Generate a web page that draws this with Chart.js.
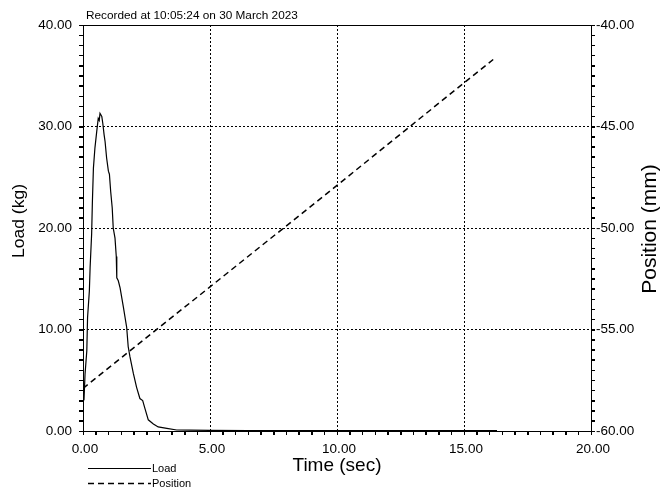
<!DOCTYPE html>
<html>
<head>
<meta charset="utf-8">
<title>Load and position against time</title>
<script src="https://cdn.jsdelivr.net/npm/chart.js@4/dist/chart.umd.min.js"></script>
<style>
  html, body { margin: 0; padding: 0; background: #fff; }
  canvas { display: block; }
</style>
</head>
<body>
<canvas id="chart" width="662" height="492"></canvas>
<script>
// Test record
const recordedAt = 'Recorded at 10:05:24 on 30 March 2023';

// Load channel (kg) against time (sec)
const loadTime = [0, 0.04, 0.08, 0.15, 0.18, 0.25, 0.28, 0.34, 0.37, 0.41, 0.47, 0.54, 0.60, 0.64, 0.67, 0.70,
  0.74, 0.78, 0.83, 0.87, 0.93, 1.00, 1.04, 1.09, 1.15, 1.19, 1.26, 1.31, 1.33, 1.39, 1.46, 1.59, 1.72,
  1.78, 1.85, 1.98, 2.11, 2.24, 2.35, 2.44, 2.57, 2.77, 2.96, 3.30, 3.69, 4.2, 5.0, 6.5, 8.0, 10.0, 12.0,
  14.0, 16.3];
const loadKg = [2.9, 3.1, 5.6, 7.9, 11.2, 13.8, 16.1, 19.4, 22.6, 25.9, 27.9, 29.5, 30.8, 30.6, 31.3, 31.3,
  31.0, 30.3, 29.2, 28.5, 26.9, 25.6, 25.3, 23.6, 22.0, 20.0, 19.0, 17.2, 15.1, 14.8, 14.1, 12.2, 10.2,
  8.3, 7.3, 5.7, 4.3, 3.2, 3.0, 2.2, 1.1, 0.7, 0.4, 0.25, 0.1, 0.08, 0.06, 0.05, 0.05, 0.05, 0.04,
  0.04, 0.04];

// Position channel (mm) against time (sec)
const positionTime = [0, 5, 10, 15, 16.15];
const positionMm = [-57.9, -52.9, -47.9, -42.85, -41.7];

// Labelled ticks on each axis
const timeTicks = [0, 5, 10, 15, 20];
const loadTicks = [0, 10, 20, 30, 40];
const positionTicks = [-60, -55, -50, -45, -40];

const FONT = '"Liberation Sans", Arial, sans-serif';
const TICK_LEN = 4;
const near = (list, v) => list.some(t => Math.abs(t - v) < 1e-9);
const pairs = (xs, ys) => xs.map((x, i) => ({ x, y: ys[i] }));

// Ten minor divisions between labelled ticks
function minorTicks(labelled) {
  const out = [];
  for (let k = 0; k < labelled.length - 1; k++) {
    const a = labelled[k], b = labelled[k + 1];
    for (let j = 0; j < 10; j++) out.push({ value: Math.round((a + (b - a) * j / 10) * 1e6) / 1e6 });
  }
  out.push({ value: labelled[labelled.length - 1] });
  return out;
}

// Dotted grid only at inner labelled ticks
function axis(labelled, pad, extra, labelOffset) {
  const min = labelled[0], max = labelled[labelled.length - 1];
  return Object.assign({
    type: 'linear',
    min, max,
    afterBuildTicks: s => { s.ticks = minorTicks(labelled); },
    ticks: {
      autoSkip: false,
      maxRotation: 0,
      padding: pad,
      labelOffset: labelOffset || 0,
      color: '#000',
      font: { family: FONT, size: 13.5 },
      callback: v => near(labelled, v) ? Number(v).toFixed(2) : ''
    },
    grid: {
      color: c => (c.tick && near(labelled, c.tick.value) && c.tick.value !== min && c.tick.value !== max)
        ? '#000' : 'rgba(0,0,0,0)',
      lineWidth: 1,
      drawTicks: true,
      tickLength: TICK_LEN,
      tickColor: '#000',
      tickWidth: 1
    },
    border: { display: false, dash: [2, 2] }
  }, extra);
}

// Frame, outside tick marks, header, vertical titles and the legend under the plot
const overlay = {
  id: 'overlay',
  afterDraw(chart) {
    const { ctx, chartArea: a, scales } = chart;
    ctx.save();
    ctx.strokeStyle = '#000';
    ctx.lineWidth = 1;
    ctx.setLineDash([]);
    ctx.strokeRect(a.left + 0.5, a.top + 0.5, a.right - a.left, a.bottom - a.top);

    ctx.beginPath();
    scales.x.ticks.forEach(t => {
      const px = Math.round(scales.x.getPixelForValue(t.value)) + 0.5;
      ctx.moveTo(px, a.bottom);
      ctx.lineTo(px, a.bottom + TICK_LEN);
    });
    scales.y.ticks.forEach(t => {
      const py = Math.round(scales.y.getPixelForValue(t.value)) + 0.5;
      ctx.moveTo(a.left - TICK_LEN, py);
      ctx.lineTo(a.left + 0.5, py);
    });
    scales.y1.ticks.forEach(t => {
      const py = Math.round(scales.y1.getPixelForValue(t.value)) + 0.5;
      ctx.moveTo(a.right + 0.5, py);
      ctx.lineTo(a.right + TICK_LEN, py);
    });
    ctx.stroke();

    ctx.fillStyle = '#000';
    ctx.textBaseline = 'middle';

    ctx.textAlign = 'left';
    ctx.font = '11.8px ' + FONT;
    ctx.fillText(recordedAt, 86, 16);

    ctx.textAlign = 'center';
    ctx.save();
    ctx.translate(20, 221);
    ctx.rotate(-Math.PI / 2);
    ctx.scale(1, 0.92);
    ctx.font = '17.5px ' + FONT;
    ctx.fillText(scales.y.options.title.text, 0, 0);
    ctx.restore();

    ctx.save();
    ctx.translate(650, 229);
    ctx.rotate(-Math.PI / 2);
    ctx.font = '21px ' + FONT;
    ctx.fillText(scales.y1.options.title.text, 0, 0);
    ctx.restore();

    ctx.textAlign = 'left';
    ctx.font = '11px ' + FONT;
    const rows = [468.5, 483.5];
    chart.data.datasets.forEach((ds, i) => {
      const y = rows[i];
      ctx.beginPath();
      ctx.setLineDash(ds.borderDash || []);
      ctx.lineWidth = ds.borderWidth;
      ctx.strokeStyle = ds.borderColor;
      ctx.moveTo(88, y);
      ctx.lineTo(151, y);
      ctx.stroke();
      ctx.setLineDash([]);
      ctx.fillText(ds.label, 152, y);
    });
    ctx.restore();
  }
};

new Chart(document.getElementById('chart'), {
  type: 'line',
  data: {
    datasets: [
      {
        label: 'Load',
        data: pairs(loadTime, loadKg),
        yAxisID: 'y',
        borderColor: '#000',
        borderWidth: 1.2,
        pointRadius: 0,
        tension: 0,
        fill: false
      },
      {
        label: 'Position',
        data: pairs(positionTime, positionMm),
        yAxisID: 'y1',
        borderColor: '#000',
        borderWidth: 1.5,
        borderDash: [6, 4],
        pointRadius: 0,
        tension: 0,
        fill: false
      }
    ]
  },
  options: {
    responsive: false,
    animation: false,
    devicePixelRatio: 1,
    layout: { padding: { top: 25, left: 0, right: 0, bottom: 0 } },
    plugins: { legend: { display: false }, tooltip: { enabled: false } },
    scales: {
      x: axis(timeTicks, 6, {
        position: 'bottom',
        title: {
          display: true, text: 'Time (sec)', color: '#000',
          font: { family: FONT, size: 19 }, padding: { top: 0, bottom: 15 }
        },
        afterFit: s => { s.height = 61; }
      }, 2),
      y: axis(loadTicks, 7, {
        position: 'left',
        title: { display: false, text: 'Load (kg)' },
        afterFit: s => { s.width = 83; }
      }),
      y1: axis(positionTicks, 1, {
        position: 'right',
        title: { display: false, text: 'Position (mm)' },
        afterFit: s => { s.width = 71; }
      })
    }
  },
  plugins: [overlay]
});
</script>
</body>
</html>
